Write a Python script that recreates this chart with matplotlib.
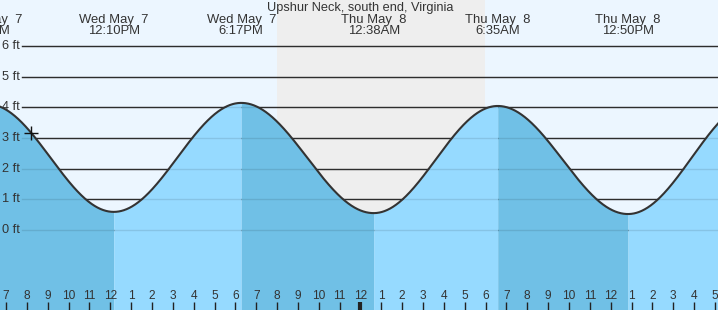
import numpy as np
import matplotlib
matplotlib.use("Agg")
import matplotlib.pyplot as plt
import matplotlib.transforms as mtransforms

plt.rcParams['font.family'] = ['Liberation Sans', 'DejaVu Sans']

# ---- data ----
title = "Upshur Neck, south end, Virginia"
# tide extremes: hours since Wed May 7 00:00, height in ft
extreme_hours = [6.12, 12.167, 18.283, 24.633, 30.583, 36.833, 42.95]
extreme_heights = [4.10, 0.59, 4.14, 0.55, 4.04, 0.52, 4.20]
extreme_days = ["Wed May  7", "Wed May  7", "Wed May  7", "Thu May  8",
                "Thu May  8", "Thu May  8", "Thu May  8"]
extreme_times = ["6:07AM", "12:10PM", "6:17PM", "12:38AM", "6:35AM",
                 "12:50PM", "6:57PM"]
night_start, night_end = 20.0, 29.97
now_hour = 8.2
y_ticks = [0, 1, 2, 3, 4, 5, 6]
y_tick_labels = ["0 ft", "1 ft", "2 ft", "3 ft", "4 ft", "5 ft", "6 ft"]
hour_ticks = list(range(7, 42))
hour_labels = [str((h - 1) % 12 + 1) for h in hour_ticks]
midnight = 24

# ---- figure ----
W, H = 718, 310
fig = plt.figure(figsize=(W / 100, H / 100), dpi=100)
ax = fig.add_axes([0, 0, 1, 1])
ax.set_axis_off()
px_per_hr = 20.85
px_per_ft = 30.7
x0 = 7 - 6 / px_per_hr
x1 = x0 + W / px_per_hr
ax.set_xlim(x0, x1)
ylo = -80 / px_per_ft
ax.set_ylim(ylo, ylo + H / px_per_ft)

ax.add_patch(plt.Rectangle((0, 0), 1, 1, transform=ax.transAxes,
                           facecolor="#ecf6ff", edgecolor="none", zorder=0))
ax.axvspan(night_start, night_end, color="#eeeeee", zorder=0.5, lw=0)


def tide(t):
    out = np.empty_like(t)
    for i in range(len(extreme_hours) - 1):
        t1, t2 = extreme_hours[i], extreme_hours[i + 1]
        h1, h2 = extreme_heights[i], extreme_heights[i + 1]
        m = (t >= t1) & (t <= t2)
        out[m] = h1 + (h2 - h1) * (1 - np.cos(np.pi * (t[m] - t1) / (t2 - t1))) / 2
    return out


xmin_frac = 22 / W
yt = mtransforms.blended_transform_factory(ax.transAxes, ax.transData)
for y, lab in zip(y_ticks, y_tick_labels):
    ax.axhline(y, xmin=xmin_frac, xmax=1, color="#333333", lw=1.0, zorder=1)
    ax.axhline(y, xmin=xmin_frac, xmax=1, color="black", alpha=0.1, lw=1.0, zorder=3)
    ax.text(2 / W, y, lab, transform=yt, ha="left", va="center", fontsize=9.2,
            color="#333333", zorder=5)

for i in range(len(extreme_hours) - 1):
    t1, t2 = extreme_hours[i], extreme_hours[i + 1]
    tt = np.linspace(t1, t2, 200)
    falling = extreme_heights[i + 1] < extreme_heights[i]
    ax.fill_between(tt, ylo - 1, tide(tt), color="#70c0e6" if falling else "#96daff",
                    lw=0, zorder=2)

tt = np.linspace(extreme_hours[0], extreme_hours[-1], 3000)
ax.plot(tt, tide(tt), color="#333333", lw=1.5, zorder=4)
ax.plot([now_hour], tide(np.array([now_hour])), marker="+", ms=10, mew=1.0,
        color="#111111", zorder=5)

# header labels
bt = mtransforms.blended_transform_factory(ax.transData, ax.transAxes)
fig.text(360 / W, 1 - 7.5 / H, title, ha="center", va="center", fontsize=9.2,
         color="#333333")
for t, d, s in zip(extreme_hours, extreme_days, extreme_times):
    if t > x1:
        continue
    ax.text(t, 1 - 20 / H, d, transform=bt, ha="center", va="center", fontsize=9.4,
            color="#333333", zorder=6)
    ax.text(t, 1 - 31.5 / H, s, transform=bt, ha="center", va="center", fontsize=9.4,
            color="#333333", zorder=6)

# hour ticks
for h, lab in zip(hour_ticks, hour_labels):
    lw = 3 if h == midnight else 1
    ax.plot([h, h], [0, 8 / H], transform=bt, color="#222222", lw=lw, zorder=6,
            solid_capstyle="butt")
    ax.text(h, 14 / H, lab, transform=bt, ha="center", va="center", fontsize=8.6,
            color="#333333", zorder=6)

fig.savefig("out.png", dpi=100)
